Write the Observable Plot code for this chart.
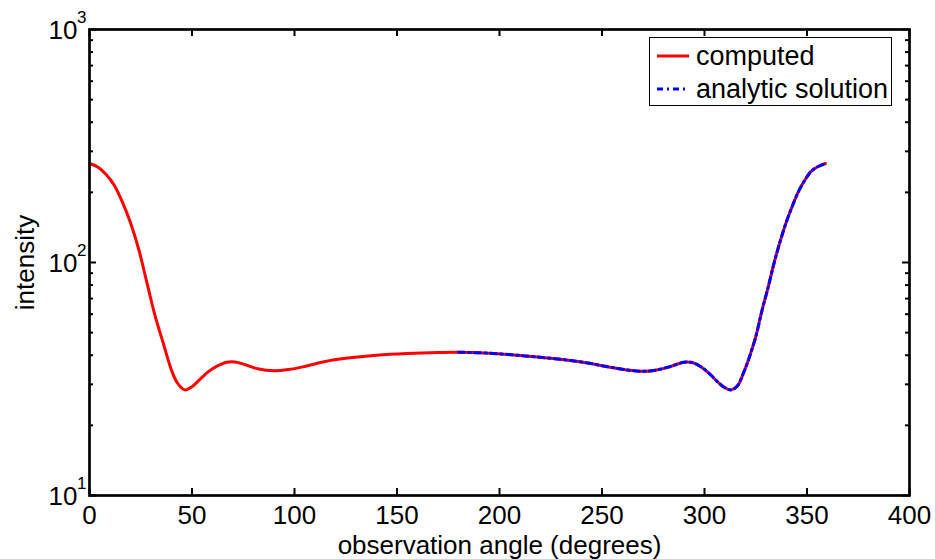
<!DOCTYPE html>
<html>
<head>
<meta charset="utf-8">
<script src="https://cdn.jsdelivr.net/npm/d3@7"></script>
<script src="https://cdn.jsdelivr.net/npm/@observablehq/plot@0.6"></script>
<style>
  html, body { margin: 0; padding: 0; background: #fff; }
  #wrap { position: relative; width: 935px; height: 559px; font-family: "Liberation Sans", Arial, sans-serif; }
  #legend { position: absolute; left: 649px; top: 37px; width: 243px; height: 69px; border: 1px solid #000; background: #fff; box-sizing: border-box; font-size: 27px; color: #000; }
  #legend .row { position: absolute; left: 0; height: 30px; display: flex; align-items: center; }
  #legend svg { display: block; }
  #legend span { margin-left: 3px; white-space: nowrap; }
</style>
</head>
<body>
<div id="wrap"></div>
<script>
// ---- data ----
const angle = [0, 4, 8, 12, 16, 20, 24, 28, 32, 36, 40, 43, 46.5, 50, 54, 58, 62, 67, 71, 76, 82, 90, 97, 105, 115, 125, 140, 155, 170, 180,
  195, 210, 225, 240, 252, 262, 270, 276, 283, 290, 294, 298, 302, 306, 310, 313, 316, 319, 322, 325, 328, 331, 334, 337, 340, 343, 346, 349, 352, 355, 359];
const computed = [266, 257, 239, 215, 182, 148, 114, 82, 59, 45, 34.5, 30.3, 28.4, 29.3, 31.6, 34.0, 35.8, 37.3, 37.4, 36.4, 35.0, 34.3, 34.7, 35.8, 37.6, 38.8, 40.0, 40.7, 41.1, 41.2,
  40.8, 39.9, 38.8, 37.4, 35.8, 34.6, 34.1, 34.5, 35.7, 37.3, 37.2, 35.8, 33.6, 31.0, 29.0, 28.4, 29.5, 33.5, 39.5, 48, 62, 78, 100, 124, 150, 176, 203, 226, 246, 257, 266];
const analyticAngle = [180, 195, 210, 225, 240, 252, 262, 270, 276, 283, 290, 294, 298, 302, 306, 310, 313, 316, 319, 322, 325, 328, 331, 334, 337, 340, 343, 346, 349, 352, 355, 359];
const analytic = [41.2, 40.8, 39.9, 38.8, 37.4, 35.8, 34.6, 34.1, 34.5, 35.7, 37.3, 37.2, 35.8, 33.6, 31.0, 29.0, 28.4, 29.5, 33.5, 39.5, 48, 62, 78, 100, 124, 150, 176, 203, 226, 246, 257, 266];
const xTicks = [0, 50, 100, 150, 200, 250, 300, 350, 400];
const yMajor = [10, 100, 1000];
const yExponent = ["1", "2", "3"];
const yMinor = [20, 30, 40, 50, 60, 70, 80, 90, 200, 300, 400, 500, 600, 700, 800, 900];
const seriesNames = ["computed", "analytic solution"];

const computedData = angle.map((a, i) => ({a, v: computed[i]}));
const analyticData = analyticAngle.map((a, i) => ({a, v: analytic[i]}));
const yLabels = yMajor.map((v, i) => ({v, e: yExponent[i]}));

const W = 935, H = 559;
const mL = 89, mR = 26, mT = 29, mB = 64;
const pw = W - mL - mR, ph = H - mT - mB;
const major = 7, minor = 4;
const dash = "6,4,2,4";

const chart = Plot.plot({
  width: W, height: H,
  marginLeft: mL, marginRight: mR, marginTop: mT, marginBottom: mB,
  style: {fontFamily: "'Liberation Sans', Arial, sans-serif", fontSize: "26px", color: "#000", background: "#fff", overflow: "visible"},
  x: {domain: [0, 400], ticks: xTicks},
  y: {type: "log", domain: [10, 1000]},
  marks: [
    Plot.line(computedData, {x: "a", y: "v", stroke: "#ff0000", strokeWidth: 3, curve: "catmull-rom"}),
    Plot.line(analyticData, {x: "a", y: "v", stroke: "#0000ff", strokeWidth: 3, strokeDasharray: dash, curve: "catmull-rom"}),
    // inward ticks
    Plot.tickX(xTicks, {x: d => d, insetTop: ph - major, stroke: "#000", strokeWidth: 2}),
    Plot.tickX(xTicks, {x: d => d, insetBottom: ph - major, stroke: "#000", strokeWidth: 2}),
    Plot.tickY(yMajor, {y: d => d, insetRight: pw - major, stroke: "#000", strokeWidth: 2}),
    Plot.tickY(yMajor, {y: d => d, insetLeft: pw - major, stroke: "#000", strokeWidth: 2}),
    Plot.tickY(yMinor, {y: d => d, insetRight: pw - minor, stroke: "#000", strokeWidth: 2}),
    Plot.tickY(yMinor, {y: d => d, insetLeft: pw - minor, stroke: "#000", strokeWidth: 2}),
    Plot.frame({stroke: "#000", strokeWidth: 2.7}),
    Plot.axisX(xTicks, {tickSize: 0, tickPadding: 10, fontSize: 26, label: null}),
    Plot.axisY({ticks: [], tickSize: 0, label: null}),
    // y tick labels 10^n
    Plot.text(yLabels, {y: "v", text: () => "10", frameAnchor: "left", dx: -12, textAnchor: "end", fontSize: 26, lineAnchor: "middle", dy: 1}),
    Plot.text(yLabels, {y: "v", text: "e", frameAnchor: "left", dx: -3, textAnchor: "end", fontSize: 17, lineAnchor: "middle", dy: -12}),
    // axis titles
    Plot.text(["observation angle (degrees)"], {frameAnchor: "bottom", text: d => d, dy: 50, fontSize: 26, lineAnchor: "middle"}),
    Plot.text(["intensity"], {frameAnchor: "left", text: d => d, dx: -64, rotate: -90, fontSize: 26, textAnchor: "middle", lineAnchor: "middle"})
  ]
});

const wrap = document.getElementById("wrap");
wrap.appendChild(chart);

// legend overlay
const legend = document.createElement("div");
legend.id = "legend";
const styles = [
  {stroke: "#ff0000", dash: null},
  {stroke: "#0000ff", dash: dash}
];
seriesNames.forEach((name, i) => {
  const row = document.createElement("div");
  row.className = "row";
  row.style.top = (i === 0 ? 3 : 36) + "px";
  const s = styles[i];
  row.innerHTML = `<svg width="43" height="30"><line x1="7" x2="39" y1="15" y2="15" stroke="${s.stroke}" stroke-width="3" ${s.dash ? `stroke-dasharray="${s.dash}"` : ""}/></svg><span>${name}</span>`;
  legend.appendChild(row);
});
wrap.appendChild(legend);
</script>
</body>
</html>
